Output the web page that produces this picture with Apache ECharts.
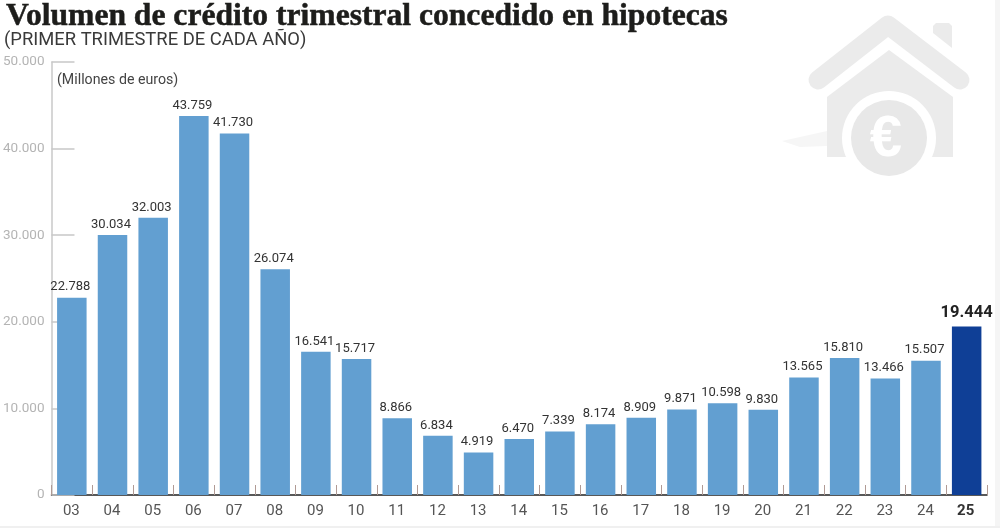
<!DOCTYPE html>
<html><head><meta charset="utf-8">
<style>html,body{margin:0;padding:0;background:#fff}#c{width:1000px;height:528px}</style>
<script src="https://cdn.jsdelivr.net/npm/echarts@6/dist/echarts.min.js"></script>
</head><body><div id="c"></div>
<script>
const categories=['03','04','05','06','07','08','09','10','11','12','13','14','15','16','17','18','19','20','21','22','23','24','25'];
const values=[22788,30034,32003,43759,41730,26074,16541,15717,8866,6834,4919,6470,7339,8174,8909,9871,10598,9830,13565,15810,13466,15507,19444];
const yTicks={min:0,max:50000,interval:10000};
const highlightCategory='25';
const fmt=v=>String(v).replace(/\B(?=(\d{3})+$)/g,'.');
const chart=echarts.init(document.getElementById('c'),null,{renderer:'canvas'});
const iconColor='#ebebeb';
chart.setOption({
  animation:false,
  backgroundColor:'#fff',
  grid:{left:51,right:13,top:62,bottom:33,containLabel:false},
  title:[
    {text:'Volumen de crédito trimestral concedido en hipotecas',left:6,top:1,padding:0,textStyle:{fontFamily:'Liberation Serif',fontWeight:'bold',fontSize:31.6,color:'#1d1d1b',textBorderColor:'#1d1d1b',textBorderWidth:0.5}},
    {text:'(PRIMER TRIMESTRE DE CADA AÑO)',left:4,top:31,padding:0,textStyle:{fontFamily:'Roboto',fontWeight:'normal',fontSize:18.4,color:'#3a3a3a'}},
    {text:'(Millones de euros)',left:57,top:73,padding:0,textStyle:{fontFamily:'Roboto',fontWeight:'normal',fontSize:14.2,color:'#444'}}
  ],
  graphic:[
    {type:'group',z:-1,silent:true,children:[
      {type:'polygon',shape:{points:[[782,141],[827,131],[827,146],[800,147]]},style:{fill:'#f6f6f6'}},
      {type:'polyline',shape:{points:[[818,80],[888,25],[960,80]]},style:{stroke:iconColor,lineWidth:19,lineCap:'round',lineJoin:'round',fill:'none'}},
      {type:'polygon',shape:{points:[[933,26],[936,23],[949,23],[952,26],[952,48],[933,33]]},style:{fill:iconColor}},
      {type:'polygon',shape:{points:[[827,97],[889,50],[953,97],[953,157],[827,157]]},style:{fill:iconColor}},
      {type:'circle',shape:{cx:889,cy:138,r:47},style:{fill:'#fff'}},
      {type:'circle',shape:{cx:889,cy:138,r:38},style:{fill:'#e8e8e8'}},
      {type:'text',style:{text:'€',x:886,y:140,align:'center',verticalAlign:'middle',font:'bold 58px "Liberation Sans"',fill:'#fff'}},
      {type:'rect',shape:{x:995,y:0,width:5,height:528},style:{fill:'#f5f5f5'}},
      {type:'rect',shape:{x:0,y:526,width:1000,height:2},style:{fill:'#f0f0f0'}}
    ]}
  ],
  xAxis:{type:'category',data:categories,
    axisLine:{lineStyle:{color:'#222',width:1.5}},
    axisTick:{show:true,inside:true,length:10,alignWithLabel:false,lineStyle:{color:'#b09a94',width:1}},
    axisLabel:{margin:9,interval:0,fontFamily:'Roboto',fontSize:15,
      color:'#555',
      formatter:v=>v===highlightCategory?'{b|'+v+'}':'{n|'+v+'}',
      rich:{n:{fontFamily:'Roboto',fontSize:15,color:'#555',padding:[0,1,0,0]},b:{fontFamily:'Roboto',fontSize:15,fontWeight:'bold',color:'#333',padding:[0,2,0,0]}}
    }},
  yAxis:{type:'value',...yTicks,
    splitLine:{show:false},
    axisLine:{show:true,lineStyle:{color:'#c8c8c8',width:1.5}},
    axisTick:{show:true,inside:true,length:23,lineStyle:{color:'#c8c8c8',width:1.5}},
    axisLabel:{margin:7,fontFamily:'Roboto',fontSize:13.5,color:'#b4b4b4',formatter:v=>fmt(v)}},
  series:[{type:'bar',barWidth:29.5,z:3,
    data:values.map((v,i)=>categories[i]===highlightCategory?{value:v,itemStyle:{color:'#0f3f96'},label:{fontSize:16.5,fontWeight:'bold',color:'#222',distance:5,offset:[0,0]}}:v),
    itemStyle:{color:'#629fd1'},
    label:{show:true,position:'top',distance:4,offset:[-1.5,0],fontFamily:'Roboto',fontSize:13,color:'#333',formatter:p=>fmt(p.value)}
  }]
});
</script></body></html>
